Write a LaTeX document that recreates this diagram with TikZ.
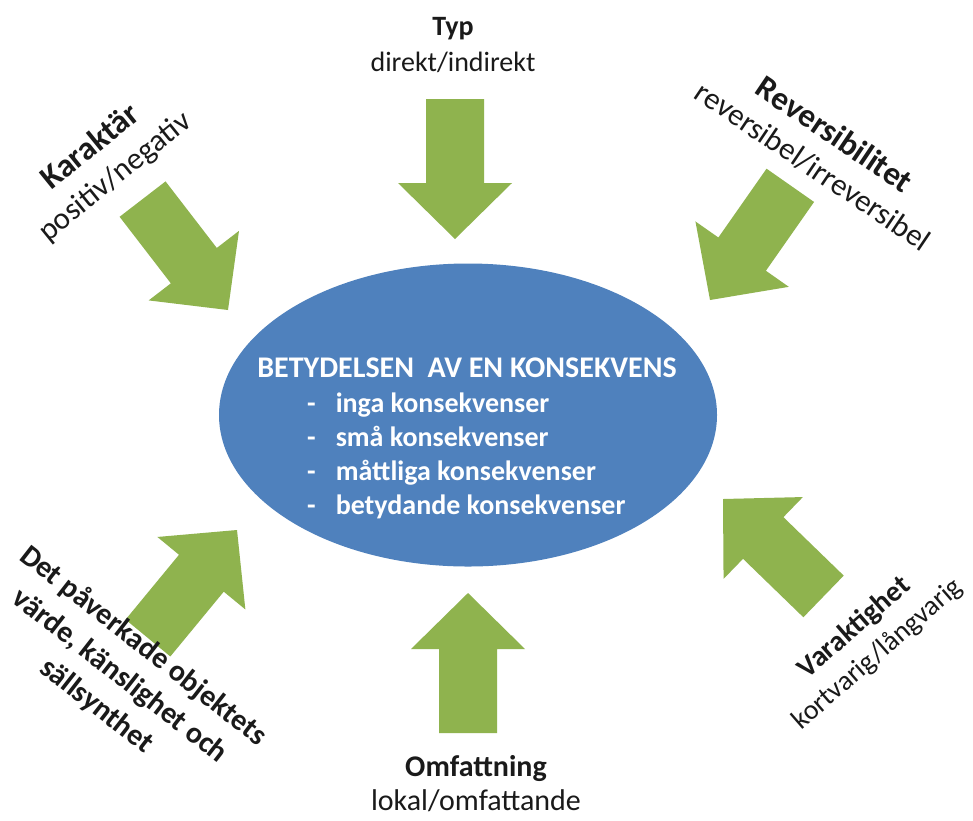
\documentclass[tikz,border=0pt]{standalone}
\usepackage{fontspec}
\setmainfont{Carlito}
\usetikzlibrary{shapes.geometric}
\definecolor{leaf}{HTML}{8FB34E}
\definecolor{sea}{HTML}{4F81BD}
\definecolor{ink}{HTML}{1A1A1A}
\newcommand{\headline}[2]{{\fontsize{#1}{#1}\selectfont\bfseries #2}}
\tikzset{
  % block arrow with its tip at the origin, pointing along +x
  blockarrow/.pic={
    \fill[leaf] (-140pt,-29pt) -- (-56pt,-29pt) -- (-56pt,-57pt) -- (0pt,0pt)
                -- (-56pt,57pt) -- (-56pt,29pt) -- (-140pt,29pt) -- cycle;
  },
  lbl/.style={align=center, font=\fontsize{28}{36}\selectfont, text=ink, inner sep=0pt},
  tilted/.style={lbl, font=\fontsize{31}{38}\selectfont},
  inner/.style={font=\fontsize{28}{34}\selectfont\bfseries, text=white, inner sep=0pt},
}
\begin{document}
\begin{tikzpicture}[x=1pt,y=-1pt]
\useasboundingbox (0,0) rectangle (973,820);
\fill[white] (0,0) rectangle (973,820);

% central ellipse
\node (core) [ellipse, fill=sea, minimum width=498pt, minimum height=303pt, inner sep=0pt] at (468,415) {};
\node (title) [inner, font=\fontsize{30}{34}\selectfont\bfseries] at (467,368) {BETYDELSEN\ \ AV EN KONSEKVENS};
\node (levels) [inner, anchor=north west, align=left] at (307,388)
  {\begin{tabular}{@{}l@{\hspace{20pt}}l@{}}
   - & inga konsekvenser\\
   - & små konsekvenser\\
   - & måttliga konsekvenser\\
   - & betydande konsekvenser
   \end{tabular}};

% arrows pointing at the ellipse
\pic[rotate=-90]   at (455,239) {blockarrow};
\pic[rotate=90]    at (468,593) {blockarrow};
\pic[rotate=-52.4] at (228,310) {blockarrow};
\pic[rotate=-125]  at (710,300) {blockarrow};
\pic[rotate=135.9] at (723,499) {blockarrow};
\pic[rotate=50.5]  at (237,530) {blockarrow};

% labels
\node (typ) [lbl] at (453,45) {\textbf{Typ}\\direkt/indirekt};
\node (omf) [lbl, font=\fontsize{30}{34}\selectfont] at (476,784) {\textbf{Omfattning}\\lokal/omfattande};
\node (kar) [tilted, rotate=39] at (103,162) {\headline{33}{Karaktär}\\positiv/negativ};
\node (rev) [tilted, rotate=-34] at (824,150) {\headline{33}{Reversibilitet}\\reversibel/irreversibel};
\node (var) [tilted, font=\fontsize{28}{35}\selectfont, rotate=41] at (866,641) {\headline{29}{Varaktighet}\\kortvarig/långvarig};
\node (det) [tilted, rotate=-38, font=\fontsize{30}{38}\selectfont\bfseries] at (120,676)
  {Det påverkade objektets\\värde, känslighet och\\sällsynthet};
\end{tikzpicture}
\end{document}
